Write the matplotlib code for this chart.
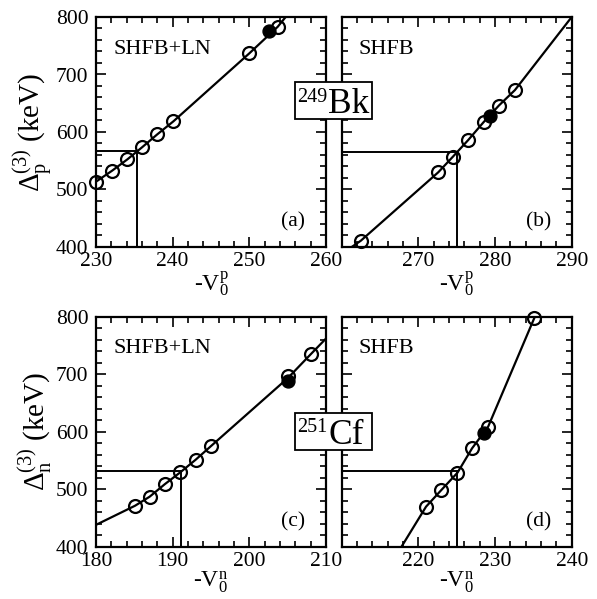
import numpy as np
import matplotlib
matplotlib.use("Agg")
import matplotlib.pyplot as plt
from matplotlib.patches import Rectangle
from matplotlib.ticker import MultipleLocator

plt.rcParams['font.family'] = ['Liberation Serif', 'DejaVu Serif']
plt.rcParams['mathtext.fontset'] = 'custom'
plt.rcParams['mathtext.rm'] = 'Liberation Serif'
plt.rcParams['mathtext.it'] = 'Liberation Serif'

# panel (a): 249Bk, SHFB+LN
a_x = [230.0, 232.1, 234.1, 236.0, 238.0, 240.1, 250.0, 253.7]
a_y = [513.6, 532.7, 552.5, 573.3, 596.0, 618.6, 736.8, 783.0]
a_fill = (252.5, 776.0)
a_line_x = [230.0, 232.1, 234.1, 236.0, 238.0, 240.1, 250.0, 253.7, 254.8]
a_line_y = [513.6, 532.7, 552.5, 573.3, 596.0, 618.6, 736.8, 783.0, 801.0]
a_ref = (235.3, 567.0)

# panel (b): 249Bk, SHFB
b_x = [262.5, 272.6, 274.5, 276.5, 278.5, 280.5, 282.6]
b_y = [411.0, 530.0, 557.0, 586.0, 617.0, 646.0, 673.0]
b_fill = (279.3, 628.0)
b_line_x = [261.3, 262.5, 272.6, 274.5, 276.5, 278.5, 280.5, 282.6, 290.0]
b_line_y = [400.0, 411.0, 530.0, 557.0, 586.0, 617.0, 646.0, 673.0, 800.0]
b_ref = (275.0, 566.0)

# panel (c): 251Cf, SHFB+LN
c_x = [185.1, 187.0, 189.0, 191.0, 193.0, 195.0, 205.0, 208.0]
c_y = [471.3, 487.0, 509.0, 529.4, 551.3, 575.0, 697.4, 734.6]
c_fill = (205.1, 689.0)
c_line_x = [180.0, 185.1, 187.0, 189.0, 191.0, 193.0, 195.0, 205.0, 208.0, 210.0]
c_line_y = [438.0, 471.3, 487.0, 509.0, 529.4, 551.3, 575.0, 693.0, 734.6, 762.0]
c_ref = (191.1, 532.0)

# panel (d): 251Cf, SHFB
d_x = [221.0, 223.0, 225.1, 227.0, 229.1, 235.1]
d_y = [469.6, 498.6, 528.7, 571.0, 608.7, 797.0]
d_fill = (228.6, 597.2)
d_line_x = [217.8, 221.0, 223.0, 225.1, 227.0, 229.1, 235.1]
d_line_y = [400.0, 469.6, 498.6, 528.7, 571.0, 608.7, 797.0]
d_ref = (225.0, 532.0)

W, H = 597, 599
fig = plt.figure(figsize=(W / 100, H / 100), dpi=100)

def px_axes(left, top, w=230, h=230):
    return fig.add_axes([left / W, 1 - (top + h) / H, w / W, h / H])

panels = [
    (px_axes(96, 17), a_x, a_y, a_fill, a_line_x, a_line_y, a_ref, (230, 260), 'SHFB+LN', '(a)', 'p', True),
    (px_axes(341.7, 17), b_x, b_y, b_fill, b_line_x, b_line_y, b_ref, (260, 290), 'SHFB', '(b)', 'p', False),
    (px_axes(96, 316.7), c_x, c_y, c_fill, c_line_x, c_line_y, c_ref, (180, 210), 'SHFB+LN', '(c)', 'n', True),
    (px_axes(341.7, 316.7), d_x, d_y, d_fill, d_line_x, d_line_y, d_ref, (210, 240), 'SHFB', '(d)', 'n', False),
]

for ax, x, y, fill, lx, ly, ref, xlim, name, tag, q, left in panels:
    ax.plot(lx, ly, color='black', lw=1.6, zorder=2)
    ax.plot(x, y, 'o', ms=9.3, mfc='none', mec='black', mew=1.6, zorder=3, clip_on=False)
    ax.plot([fill[0]], [fill[1]], 'o', ms=9.3, color='black', zorder=4)
    # reference lines
    ax.plot([xlim[0], ref[0]], [ref[1], ref[1]], color='black', lw=1.4, zorder=2)
    ax.plot([ref[0], ref[0]], [400, ref[1]], color='black', lw=1.4, zorder=2)
    ax.set_xlim(*xlim)
    ax.set_ylim(400, 800)
    ax.xaxis.set_major_locator(MultipleLocator(10))
    ax.xaxis.set_minor_locator(MultipleLocator(2))
    ax.yaxis.set_major_locator(MultipleLocator(100))
    ax.yaxis.set_minor_locator(MultipleLocator(20))
    ax.tick_params(which='both', direction='in', top=True, right=True, width=1.2)
    ax.tick_params(which='major', length=7, labelsize=15.5)
    ax.tick_params(axis='x', which='major', pad=3.5)
    ax.tick_params(axis='y', which='major', pad=5.5)
    ax.tick_params(which='minor', length=4)
    for s in ax.spines.values():
        s.set_linewidth(1.6)
    ticks = list(range(xlim[0], xlim[1] + 1, 10))
    ax.set_xticks(ticks)
    if left:
        ax.set_ylabel(r'$\Delta_{\mathrm{%s}}^{(3)}$ (keV)' % q, fontsize=21, labelpad=1)
    else:
        ax.set_yticklabels([])
        ax.set_xticklabels([''] + [str(t) for t in ticks[1:]])
    ax.set_xlabel(r'-$\mathrm{V}_{0}^{\mathrm{%s}}$' % q, fontsize=17, labelpad=-1)
    ax.text(0.074, 0.86, name, transform=ax.transAxes, fontsize=16, va='center', ha='left')
    ax.text(0.91, 0.11, tag, transform=ax.transAxes, fontsize=15.5, va='center', ha='right')

# nucleus labels in boxes between the panels
for top, mass, sym in [(82.3, '249', 'Bk'), (413.0, '251', 'Cf')]:
    fig.patches.append(Rectangle((295 / W, 1 - (top + 37) / H), 77.5 / W, 37 / H,
                                 transform=fig.transFigure, fc='white', ec='black', lw=1.3, zorder=10))
    fig.text(327.5 / W, 1 - (top + 19.4) / H, mass, fontsize=14.5, ha='right', va='baseline', zorder=11)
    fig.text(328 / W, 1 - (top + 31) / H, sym, fontsize=25.5, ha='left', va='baseline', zorder=11)

fig.savefig('out.png', dpi=100)
